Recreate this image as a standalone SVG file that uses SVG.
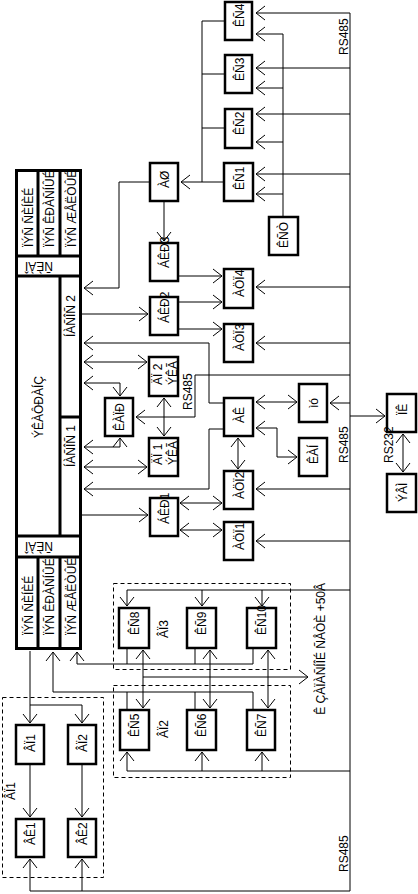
<svg xmlns="http://www.w3.org/2000/svg" width="418" height="894" viewBox="0 0 418 894">
<style>
.b{fill:#fff;stroke:#000;stroke-width:2.5}
.m{fill:none;stroke:#000;stroke-width:3}
.c{fill:none;stroke:#000;stroke-width:1}
.e{marker-end:url(#a)}
.s{marker-start:url(#a)}
.d{fill:none;stroke:#000;stroke-width:1;stroke-dasharray:4 3}
text{font-family:"Liberation Sans",Arial,sans-serif;font-size:12px;fill:#000}
</style>
<defs>
<marker id="a" viewBox="-10 -8 11 16" refX="0" refY="0" markerWidth="11" markerHeight="16" markerUnits="userSpaceOnUse" orient="auto-start-reverse"><path d="M-9,-7 L0,0 L-9,7" fill="none" stroke="#000" stroke-width="1"/></marker>
</defs>
<rect width="418" height="894" fill="#fff"/>

<g id="groups">
<rect class="d" x="2.5" y="697.5" width="101" height="180"/>
<rect class="d" x="113.5" y="583.5" width="177" height="86"/>
<rect class="d" x="113.5" y="685.5" width="177" height="92"/>
<text transform="translate(15,800) rotate(-90)">ÂÏ1</text>
<text transform="translate(168,738) rotate(-90)">ÂÏ2</text>
<text transform="translate(168,638) rotate(-90)">ÂÏ3</text>
</g>

<g id="connectors">
<path class="c" d="M350,13 V891"/>
<path class="c e" d="M350,13 H256"/>
<path class="c e" d="M350,68 H256"/>
<path class="c e" d="M350,114 H256"/>
<path class="c e" d="M350,174 H256"/>
<path class="c" d="M283,216 V34"/>
<path class="c e" d="M283,34 H256"/>
<path class="c e" d="M283,88 H256"/>
<path class="c e" d="M283,142 H256"/>
<path class="c e" d="M283,194 H256"/>
<path class="c" d="M202,21 V182 M224,21 H202 M224,74 H202 M224,128 H202"/>
<path class="c e" d="M223,182 H181"/>
<path class="c e" d="M149,182 H119 V288 H84"/>
<path class="c e" d="M164,202 V241"/>
<path class="c e" d="M179,276 H222"/>
<path class="c e" d="M179,302 H222"/>
<path class="c e" d="M179,329 H222"/>
<path class="c e" d="M350,287 H256"/>
<path class="c e" d="M350,343 H256"/>
<path class="c e" d="M82,314 H148"/>
<path class="c e" d="M223,403 H209 V343 H84"/>
<path class="c e s" d="M84,362 H147"/>
<path class="c e s" d="M84,383 H120 V396"/>
<path class="c e" d="M350,375 H195 V417 H136"/>
<path class="c e s" d="M84,447 H120 V438"/>
<path class="c e s" d="M164,398 V436"/>
<path class="c e s" d="M84,467 H147"/>
<path class="c e" d="M223,429 H209 V489 H84"/>
<path class="c e" d="M82,515 H148"/>
<path class="c e s" d="M238,438 V469"/>
<path class="c e s" d="M180,503 H222"/>
<path class="c e" d="M350,489 H256"/>
<path class="c e s" d="M256,402 H297"/>
<path class="c e s" d="M256,428 H277 V457 H297"/>
<path class="c e" d="M350,403 H330"/>
<path class="c e" d="M350,416 H385"/>
<path class="c e s" d="M403,434 V472"/>
<path class="c e s" d="M180,530 H222"/>
<path class="c e" d="M350,541 H256"/>
<path class="c" d="M350,590 H127"/>
<path class="c e" d="M127,590 V606"/>
<path class="c e" d="M202,590 V606"/>
<path class="c e" d="M262,590 V606"/>
<path class="c" d="M127,649 V664 M195,649 V664"/>
<path class="c e" d="M253,649 V664 H77 V652"/>
<path class="c e s" d="M143,650 V708"/>
<path class="c e s" d="M210,650 V708"/>
<path class="c e s" d="M268,650 V708"/>
<path class="c e" d="M143,677 H308"/>
<path class="c" d="M127,709 V692 M195,709 V692"/>
<path class="c e" d="M253,709 V692 H53 V652"/>
<path class="c" d="M350,771 H127"/>
<path class="c e" d="M127,771 V752"/>
<path class="c e" d="M202,771 V752"/>
<path class="c e" d="M262,771 V752"/>
<path class="c" d="M30,651 V705 H82"/>
<path class="c e" d="M30,705 V723"/>
<path class="c e" d="M82,705 V723"/>
<path class="c e" d="M30,765 V817"/>
<path class="c e" d="M82,765 V817"/>
<path class="c e" d="M350,891 H30 V859"/>
<path class="c e" d="M82,891 V859"/>
</g>

<g id="main">
<rect class="m" x="16.5" y="170.5" width="64" height="478"/>
<path class="m" d="M16.5,256 H80.5 M16.5,276 H80.5 M16.5,536 H80.5 M16.5,557 H80.5 M38,170.5 V256 M38,557 V648.5 M60,170.5 V256 M60,276 V536 M60,557 V648.5 M60,417 H80.5"/>
<text transform="translate(33,247) rotate(-90)">ÏÝÑ ÑÈÍÈÉ</text>
<text transform="translate(54,247) rotate(-90)">ÏÝÑ ÊÐÀÑÍÛÉ</text>
<text transform="translate(76,247) rotate(-90)">ÏÝÑ ÆÅËÒÛÉ</text>
<text transform="translate(33,635) rotate(-90)">ÏÝÑ ÑÈÍÈÉ</text>
<text transform="translate(54,635) rotate(-90)">ÏÝÑ ÊÐÀÑÍÛÉ</text>
<text transform="translate(76,635) rotate(-90)">ÏÝÑ ÆÅËÒÛÉ</text>
<text transform="translate(39,262) rotate(180)" text-anchor="middle">ÑÈÀÎ</text>
<text transform="translate(39,542) rotate(180)" text-anchor="middle">ÑÈÀÎ</text>
<text transform="translate(43,407) rotate(-90)" text-anchor="middle">ÝÊÀÔÐÀÍÇ</text>
<text transform="translate(75,295) rotate(-90)" text-anchor="end">ÍÀÑÎÑ 2</text>
<text transform="translate(75,425) rotate(-90)" text-anchor="end">ÍÀÑÎÑ 1</text>
</g>

<g id="KS4"><rect class="b" x="225" y="2" width="27" height="38"/><text transform="translate(244,27) rotate(-90)">ÊÑ4</text></g>
<g id="KS3"><rect class="b" x="225" y="55" width="27" height="38"/><text transform="translate(244,81) rotate(-90)">ÊÑ3</text></g>
<g id="KS2"><rect class="b" x="225" y="109" width="27" height="39"/><text transform="translate(244,135) rotate(-90)">ÊÑ2</text></g>
<g id="KS1"><rect class="b" x="224" y="163" width="29" height="38"/><text transform="translate(244,190) rotate(-90)">ÊÑ1</text></g>
<g id="ASh"><rect class="b" x="150" y="163" width="28" height="38"/><text transform="translate(169,188) rotate(-90)">ÀØ</text></g>
<g id="KST"><rect class="b" x="269" y="217" width="29" height="38"/><text transform="translate(288,248) rotate(-90)">ÊÑÒ</text></g>
<g id="BKR3"><rect class="b" x="150" y="243" width="28" height="38"/><text transform="translate(169,268) rotate(-90)">ÁÊÐ3</text></g>
<g id="ACP4"><rect class="b" x="224" y="269" width="29" height="39"/><text transform="translate(244,297) rotate(-90)">ÀÖÏ4</text></g>
<g id="BKR2"><rect class="b" x="150" y="297" width="28" height="38"/><text transform="translate(169,323) rotate(-90)">ÁÊÐ2</text></g>
<g id="ACP3"><rect class="b" x="224" y="324" width="29" height="38"/><text transform="translate(244,351) rotate(-90)">ÀÖÏ3</text></g>
<g id="DP2"><rect class="b" x="149" y="357" width="29" height="39"/><text transform="translate(162,385) rotate(-90)">ÄÏ 2</text><text transform="translate(177,385) rotate(-90)">ÝÊÃ</text></g>
<g id="KAPR"><rect class="b" x="105" y="398" width="28" height="38"/><text transform="translate(124,417) rotate(-90)" text-anchor="middle">ÊÀÏÐ</text></g>
<g id="AK"><rect class="b" x="224" y="398" width="29" height="38"/><text transform="translate(244,423) rotate(-90)">ÀÊ</text></g>
<g id="MU"><rect class="b" x="299" y="384" width="28" height="38"/><text transform="translate(318,408) rotate(-90)">ìó</text></g>
<g id="KAN"><rect class="b" x="299" y="438" width="28" height="38"/><text transform="translate(318,464) rotate(-90)">ÊÀÍ</text></g>
<g id="DP1"><rect class="b" x="149" y="438" width="29" height="38"/><text transform="translate(162,465) rotate(-90)">ÄÏ 1</text><text transform="translate(177,465) rotate(-90)">ÝÊÃ</text></g>
<g id="ACP2"><rect class="b" x="224" y="471" width="29" height="38"/><text transform="translate(244,499) rotate(-90)">ÀÖÏ2</text></g>
<g id="BKR1"><rect class="b" x="150" y="498" width="28" height="38"/><text transform="translate(169,524) rotate(-90)">ÁÊÐ1</text></g>
<g id="ACP1"><rect class="b" x="224" y="522" width="29" height="38"/><text transform="translate(244,550) rotate(-90)">ÀÖÏ1</text></g>
<g id="PK"><rect class="b" x="387" y="394" width="29" height="38"/><text transform="translate(407,415) rotate(-90)">ÏÊ</text></g>
<g id="EVM"><rect class="b" x="387" y="474" width="29" height="38"/><text transform="translate(407,502) rotate(-90)">ÝÂÌ</text></g>
<g id="KS8"><rect class="b" x="119" y="608" width="30" height="40"/><text transform="translate(139,635) rotate(-90)">ÊÑ8</text></g>
<g id="KS9"><rect class="b" x="187" y="608" width="29" height="40"/><text transform="translate(206,635) rotate(-90)">ÊÑ9</text></g>
<g id="KS10"><rect class="b" x="247" y="608" width="29" height="40"/><text transform="translate(266,635) rotate(-90)">ÊÑ10</text></g>
<g id="KS5"><rect class="b" x="120" y="710" width="29" height="40"/><text transform="translate(139,737) rotate(-90)">ÊÑ5</text></g>
<g id="KS6"><rect class="b" x="187" y="710" width="29" height="40"/><text transform="translate(206,737) rotate(-90)">ÊÑ6</text></g>
<g id="KS7"><rect class="b" x="247" y="710" width="28" height="40"/><text transform="translate(266,737) rotate(-90)">ÊÑ7</text></g>
<g id="VP1"><rect class="b" x="16" y="725" width="28" height="39"/><text transform="translate(35,752) rotate(-90)">ÂÏ1</text></g>
<g id="VP2"><rect class="b" x="68" y="725" width="28" height="39"/><text transform="translate(87,752) rotate(-90)">ÂÏ2</text></g>
<g id="VK1"><rect class="b" x="16" y="819" width="28" height="38"/><text transform="translate(35,845) rotate(-90)">ÂÊ1</text></g>
<g id="VK2"><rect class="b" x="68" y="819" width="28" height="38"/><text transform="translate(87,845) rotate(-90)">ÂÊ2</text></g>

<g id="labels">
<text transform="translate(348,55) rotate(-90)">RS485</text>
<text transform="translate(192,410) rotate(-90)">RS485</text>
<text transform="translate(348,463) rotate(-90)">RS485</text>
<text transform="translate(393,463) rotate(-90)">RS232</text>
<text transform="translate(348,872) rotate(-90)">RS485</text>
<text transform="translate(325,583) rotate(-90)" text-anchor="end">Ê ÇÀÏÀÑÍÎÉ ÑÅÒÈ +50Â</text>
</g>
</svg>
